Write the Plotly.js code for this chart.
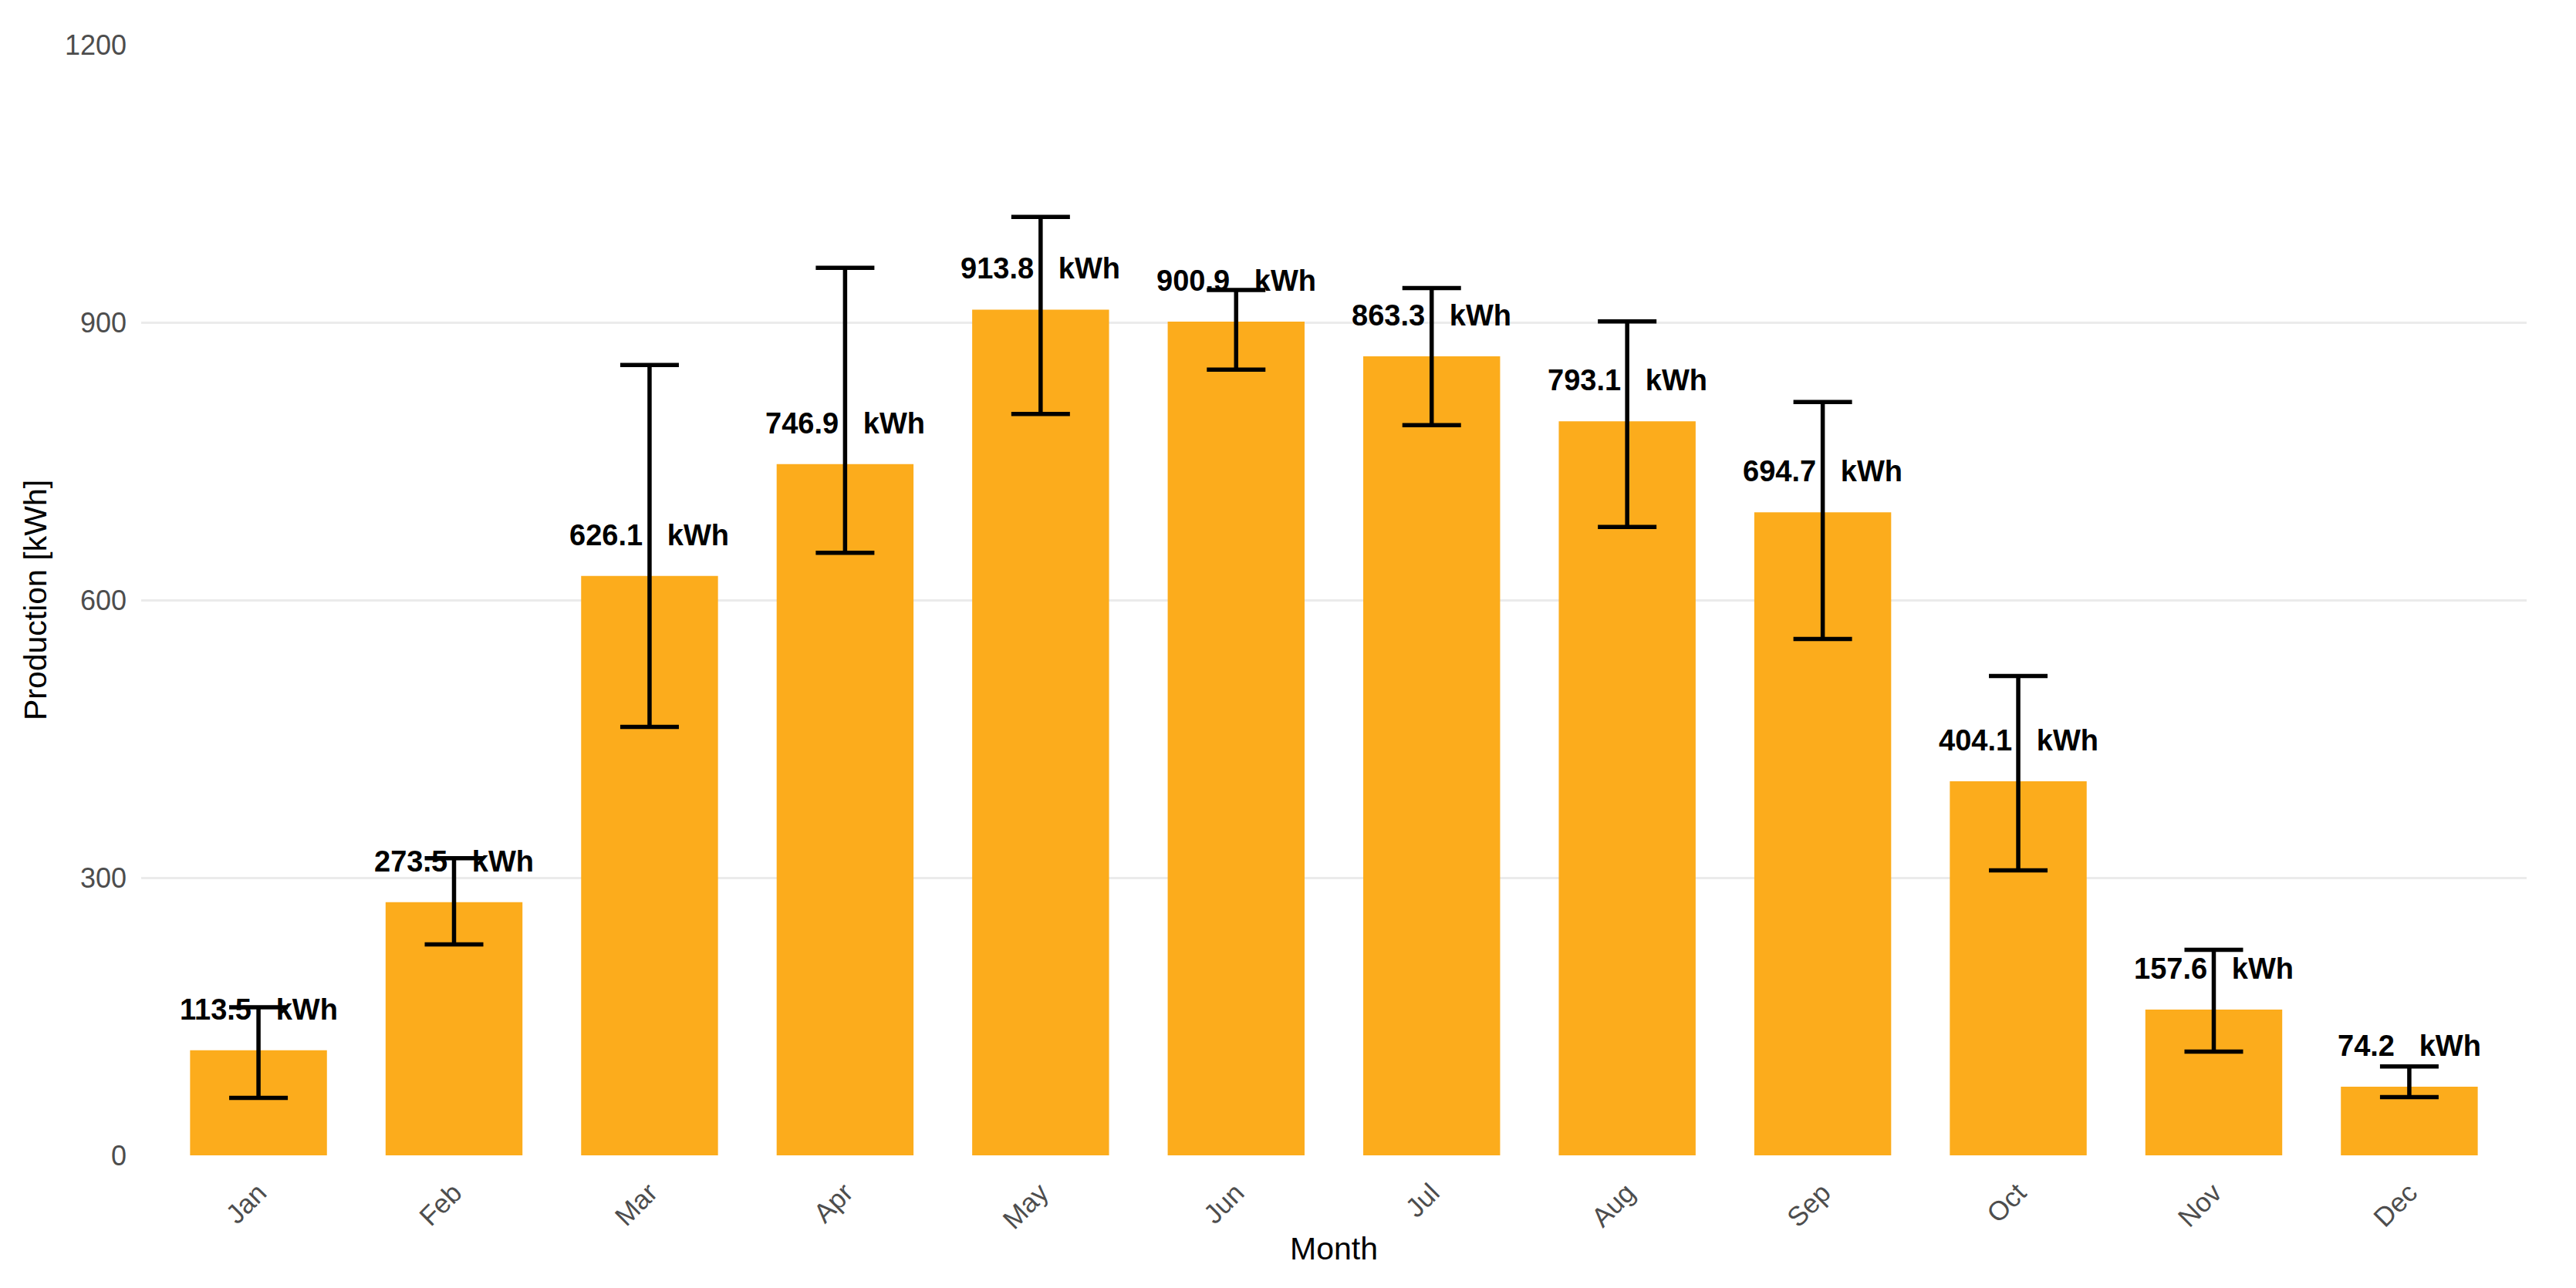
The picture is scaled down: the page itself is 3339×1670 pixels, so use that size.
<!DOCTYPE html>
<html>
<head>
<meta charset="utf-8">
<script src="https://cdn.plot.ly/plotly-3.0.1.min.js"></script>
<style>
  html, body { margin: 0; padding: 0; background: #ffffff; }
  #chart { width: 3339px; height: 1670px; }
</style>
</head>
<body>
<div id="chart"></div>
<script>
// Data
const months = ["Jan","Feb","Mar","Apr","May","Jun","Jul","Aug","Sep","Oct","Nov","Dec"];
const production = [113.5, 273.5, 626.1, 746.9, 913.8, 900.9, 863.3, 793.1, 694.7, 404.1, 157.6, 74.2];
const upperBound = [160, 321, 854, 959, 1014, 935, 937, 901, 814, 518, 222, 96];
const lowerBound = [62, 228, 463, 651, 801, 849, 789, 679, 558, 308, 112, 63];
const yTicks = [0, 300, 600, 900, 1200];

const errPlus = production.map((v, i) => upperBound[i] - v);
const errMinus = production.map((v, i) => v - lowerBound[i]);

const FONT = "Liberation Sans, Arial, sans-serif";

const barTrace = {
  type: "bar",
  x: months,
  y: production,
  marker: { color: "#FCAC1C", line: { width: 0 } },
  error_y: {
    type: "data",
    array: errPlus,
    arrayminus: errMinus,
    symmetric: false,
    visible: true,
    color: "#000000",
    thickness: 5.5,
    width: 38
  },
  hoverinfo: "skip",
  showlegend: false
};

const annotations = months.map((m, i) => ({
  x: m,
  y: production[i],
  xref: "x",
  yref: "y",
  text: "<b>" + production[i].toFixed(1) + "\u00a0\u00a0\u00a0kWh</b>",
  showarrow: false,
  yanchor: "middle",
  xanchor: "center",
  yshift: 53,
  font: { family: FONT, size: 38, color: "#000000" }
}));

const layout = {
  width: 3339,
  height: 1670,
  margin: { l: 183, r: 64, t: 58, b: 172, pad: 0 },
  paper_bgcolor: "#ffffff",
  plot_bgcolor: "#ffffff",
  bargap: 0.3,
  font: { family: FONT },
  showlegend: false,
  xaxis: {
    type: "category",
    range: [-0.6, 11.6],
    showgrid: false,
    zeroline: false,
    showline: false,
    ticks: "",
    tickangle: -45,
    ticklabelstandoff: 20,
    tickfont: { family: FONT, size: 35, color: "#4D4D4D" },
    title: { text: "Month", font: { family: FONT, size: 41, color: "#000000" }, standoff: 4 },
    automargin: false
  },
  yaxis: {
    range: [0, 1200],
    tickvals: yTicks,
    ticktext: yTicks.map(String),
    showgrid: true,
    gridcolor: "#EBEBEB",
    gridwidth: 3,
    zeroline: false,
    showline: false,
    ticks: "",
    ticklabelstandoff: 18,
    tickfont: { family: FONT, size: 36, color: "#4D4D4D" },
    title: { text: "Production [kWh]", font: { family: FONT, size: 41, color: "#000000" }, standoff: 10 },
    automargin: false
  },
  annotations: annotations
};

Plotly.newPlot("chart", [barTrace], layout, { staticPlot: true, displayModeBar: false });
</script>
</body>
</html>
